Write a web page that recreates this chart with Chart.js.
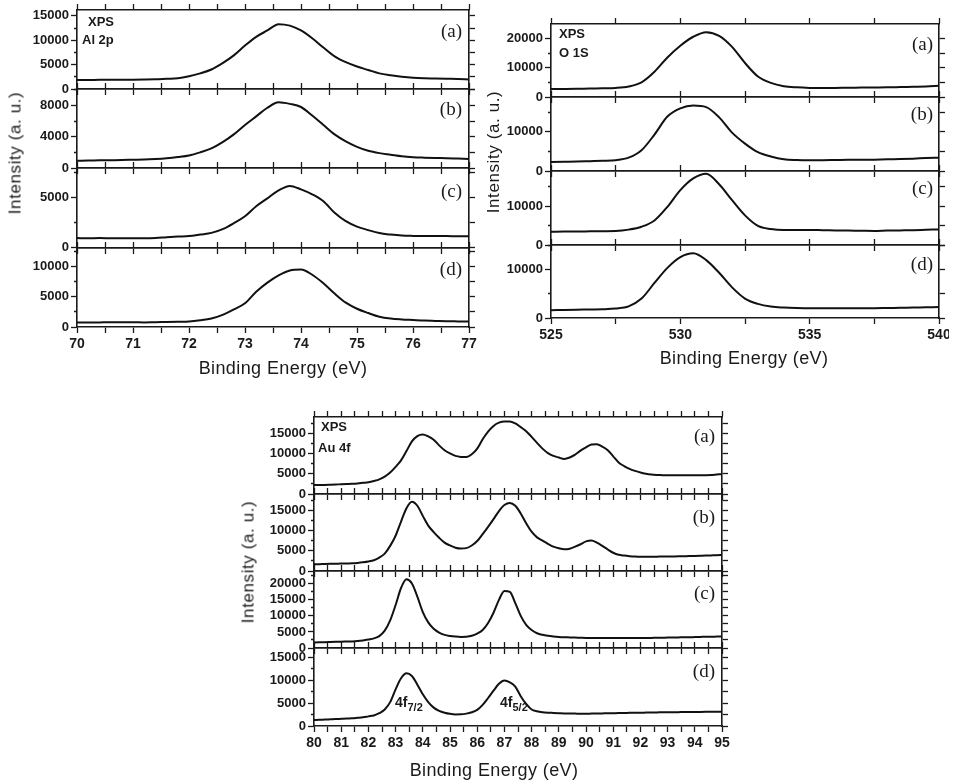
<!DOCTYPE html>
<html>
<head>
<meta charset="utf-8">
<script src="https://cdn.jsdelivr.net/npm/chart.js@4.4.1/dist/chart.umd.min.js"></script>
<style>
body { margin: 0; width: 955px; height: 781px; position: relative; background: #fff; overflow: hidden;
       font-family: "Liberation Sans", Arial, sans-serif; color: #1a1a1a; }
canvas { position: absolute; }
.t { position: absolute; white-space: nowrap; line-height: 1; }
.lbl { font-family: "Liberation Serif", "Times New Roman", serif; font-size: 19px; transform: translate(-100%, -50%); }
.tag { font-weight: bold; font-size: 13px; transform: translateY(-50%); }
.pk { font-weight: bold; font-size: 14px; transform: translateY(-50%); }
.pk sub { font-size: 11px; vertical-align: -4px; }
.xt { font-size: 18px; letter-spacing: 0.4px; transform: translate(-50%, -50%); }
.yt { font-size: 17px; letter-spacing: 0.6px; transform: translate(-50%, -50%) rotate(-90deg); }
</style>
</head>
<body>
<script>
// Al 2p
const alEnergy = [70, 70.2, 70.4, 70.6, 70.8, 71, 71.2, 71.4, 71.6, 71.8, 72, 72.2, 72.4, 72.6, 72.8, 73, 73.2, 73.4,
    73.6, 73.8, 74, 74.2, 74.4, 74.6, 74.8, 75, 75.2, 75.4, 75.6, 75.8, 76, 76.2, 76.4, 76.6, 76.8, 77];
const alA = [1830, 1850, 1880, 1900, 1900, 1920, 1950, 2000, 2100, 2200, 2600, 3200, 4000, 5300, 6900, 8900, 10700, 12000,
    13300, 13000, 12000, 10400, 8500, 6700, 5500, 4600, 3900, 3200, 2800, 2500, 2300, 2200, 2150, 2100, 2050, 1970];
const alB = [930, 950, 980, 1000, 1020, 1050, 1080, 1150, 1250, 1400, 1600, 2000, 2500, 3300, 4300, 5500, 6600, 7700,
    8400, 8200, 7800, 6700, 5500, 4300, 3400, 2700, 2200, 1900, 1700, 1500, 1380, 1320, 1280, 1250, 1200, 1150];
const alC = [900, 880, 900, 880, 870, 890, 880, 900, 980, 1050, 1100, 1250, 1420, 1800, 2400, 3100, 4100, 4900,
    5700, 6150, 5800, 5300, 4600, 3450, 2600, 2050, 1700, 1400, 1250, 1150, 1120, 1110, 1100, 1100, 1080, 1080];
const alD = [720, 730, 750, 780, 770, 780, 760, 800, 820, 850, 900, 1100, 1400, 2000, 2900, 3900, 5800, 7300,
    8500, 9300, 9450, 8600, 7200, 5500, 4000, 3000, 2300, 1700, 1400, 1250, 1150, 1050, 1000, 950, 920, 890];
const alYMax = [16200, 10100, 7950, 13000];
const alYMin = [0, 0, -100, 0];
const alXTicks = [70, 70.5, 71, 71.5, 72, 72.5, 73, 73.5, 74, 74.5, 75, 75.5, 76, 76.5, 77];
const alYTicks = [
    [0, 2500, 5000, 7500, 10000, 12500, 15000],
    [0, 2000, 4000, 6000, 8000, 10000],
    [0, 2500, 5000, 7500],
    [0, 2500, 5000, 7500, 10000, 12500]
];
const alYLabels = [[0, 5000, 10000, 15000], [0, 4000, 8000], [0, 5000], [0, 5000, 10000]];

// O 1s
const oEnergy = [525, 525.5, 526, 526.5, 527, 527.5, 528, 528.5, 529, 529.5, 530, 530.5, 531, 531.5, 532, 532.5,
    533, 533.5, 534, 534.5, 535, 535.5, 536, 536.5, 537, 537.5, 538, 538.5, 539, 539.5, 540];
const oA = [2720, 2750, 2800, 2900, 2950, 3100, 3600, 5000, 8600, 13500, 17500, 20550, 22100, 20850, 17100, 11600,
    7000, 4800, 3700, 3300, 3100, 3050, 3100, 3150, 3200, 3250, 3300, 3400, 3500, 3600, 3800];
const oB = [2300, 2350, 2400, 2500, 2600, 2750, 3400, 5300, 9300, 13900, 16000, 16700, 16300, 13700, 9800, 7000,
    4800, 3700, 3000, 2800, 2750, 2750, 2800, 2850, 2850, 2900, 3000, 3050, 3150, 3300, 3400];
const oC = [3400, 3450, 3450, 3500, 3550, 3600, 3950, 4700, 6300, 9800, 14100, 17100, 18300, 15600, 11500, 7600,
    4900, 4100, 3850, 3850, 3850, 3800, 3750, 3700, 3650, 3600, 3700, 3750, 3800, 3900, 4000];
const oD = [1600, 1650, 1700, 1750, 1800, 1950, 2400, 4000, 7200, 10300, 12500, 13300, 11900, 9300, 6300, 4000,
    2900, 2350, 2150, 2050, 2000, 2000, 2000, 2000, 2000, 2000, 2050, 2100, 2150, 2200, 2250];
const oYMax = [24900, 18900, 19000, 15000];
const oXTicks = [525, 527.5, 530, 532.5, 535, 537.5, 540];
const oYTicks = [
    [0, 5000, 10000, 15000, 20000],
    [0, 5000, 10000, 15000],
    [0, 5000, 10000, 15000],
    [0, 5000, 10000, 15000]
];
const oYLabels = [[0, 10000, 20000], [0, 10000], [0, 10000], [0, 10000]];

// Au 4f
const auEnergy = [80, 80.2, 80.4, 80.6, 80.8, 81, 81.2, 81.4, 81.6, 81.8, 82, 82.2, 82.4, 82.6, 82.8, 83, 83.2, 83.4,
    83.6, 83.8, 84, 84.2, 84.4, 84.6, 84.8, 85, 85.2, 85.4, 85.6, 85.8, 86, 86.2, 86.4, 86.6, 86.8, 87, 87.2, 87.4,
    87.6, 87.8, 88, 88.2, 88.4, 88.6, 88.8, 89, 89.2, 89.4, 89.6, 89.8, 90, 90.2, 90.4, 90.6, 90.8, 91, 91.2, 91.4,
    91.6, 91.8, 92, 92.2, 92.4, 92.6, 92.8, 93, 93.2, 93.4, 93.6, 93.8, 94, 94.2, 94.4, 94.6, 94.8, 95];
const auA = [2200, 2220, 2250, 2300, 2350, 2400, 2450, 2500, 2600, 2750, 2900, 3200, 3600, 4300, 5300, 6700, 8300, 10600,
    13000, 14300, 14700, 14200, 13400, 12000, 10800, 10000, 9400, 9150, 9100, 9800, 11200, 13500, 15400, 16800, 17600,
    17900, 17900, 17400, 16500, 15500, 14100, 12600, 11200, 10100, 9400, 9000, 8650, 9000, 9700, 10700, 11500, 12200,
    12300, 11700, 10800, 9300, 7800, 6900, 6200, 5700, 5300, 5000, 4800, 4700, 4650, 4600, 4600, 4600, 4600, 4600,
    4600, 4620, 4650, 4700, 4800, 4900];
const auB = [1640, 1680, 1720, 1760, 1800, 1840, 1870, 1900, 2000, 2150, 2350, 2650, 3300, 4300, 6200, 8700, 12200, 15500,
    17100, 16100, 13600, 11200, 9600, 8200, 7000, 6300, 5750, 5550, 5650, 6300, 7400, 9100, 10900, 12800, 14800,
    16300, 16800, 16100, 14200, 11800, 9700, 8300, 7500, 6700, 6000, 5600, 5350, 5500, 6000, 6600, 7300, 7500,
    7000, 6200, 5300, 4500, 4000, 3800, 3650, 3550, 3500, 3500, 3520, 3540, 3560, 3580, 3600, 3620, 3650, 3680,
    3720, 3760, 3800, 3850, 3900, 3940];
const auC = [1740, 1780, 1820, 1870, 1920, 1970, 2010, 2050, 2150, 2350, 2650, 3000, 3700, 5400, 8600, 13400, 18700, 21400,
    20100, 16000, 11200, 8000, 6000, 4800, 4100, 3750, 3550, 3450, 3500, 3800, 4500, 5600, 7800, 11000, 15000,
    17800, 17500, 14000, 10000, 7200, 5600, 4600, 4100, 3800, 3600, 3450, 3350, 3300, 3250, 3200, 3150, 3120,
    3100, 3100, 3100, 3100, 3100, 3100, 3100, 3100, 3100, 3150, 3150, 3200, 3200, 3250, 3250, 3300, 3350, 3350,
    3400, 3450, 3500, 3500, 3550, 3600];
const auD = [1300, 1340, 1400, 1450, 1500, 1560, 1620, 1670, 1780, 1900, 2100, 2300, 2800, 3600, 5200, 8000, 10400, 11500,
    10900, 9000, 6900, 5200, 4000, 3300, 2900, 2650, 2530, 2550, 2700, 3000, 3500, 4600, 6100, 7700, 9200,
    9900, 9500, 8600, 6500, 4800, 3600, 3200, 3000, 2900, 2850, 2800, 2750, 2720, 2700, 2680, 2680, 2700,
    2720, 2750, 2780, 2800, 2820, 2850, 2870, 2900, 2900, 2920, 2940, 2960, 2980, 3000, 3000, 3020, 3040, 3050,
    3060, 3070, 3080, 3090, 3100, 3120];
const auYMax = [19000, 19000, 24000, 17000];
const auXTicks = [80, 80.5, 81, 81.5, 82, 82.5, 83, 83.5, 84, 84.5, 85, 85.5, 86, 86.5, 87, 87.5, 88, 88.5,
    89, 89.5, 90, 90.5, 91, 91.5, 92, 92.5, 93, 93.5, 94, 94.5, 95];
const auYTicks = [
    [0, 2500, 5000, 7500, 10000, 12500, 15000, 17500],
    [0, 2500, 5000, 7500, 10000, 12500, 15000, 17500],
    [0, 2500, 5000, 7500, 10000, 12500, 15000, 17500, 20000, 22500],
    [0, 2500, 5000, 7500, 10000, 12500, 15000]
];
const auYLabels = [[0, 5000, 10000, 15000], [0, 5000, 10000, 15000], [0, 5000, 10000, 15000, 20000], [0, 5000, 10000, 15000]];

const panelTags = ["(a)", "(b)", "(c)", "(d)"];

const INK = "#1a1a1a";
const tickFont = (size) => ({ family: "'Liberation Sans', Arial, sans-serif", size: size, weight: "bold" });

// one stacked strip of a panel; box = plot area in page pixels
function addSubplot(box, xs, ys, opt) {
    const L = 64, R = 10, T = 10, B = opt.last ? 36 : 10;
    const w = box.x1 - box.x0 + L + R;
    const h = box.y1 - box.y0 + T + B;
    const c = document.createElement("canvas");
    c.width = w; c.height = h;
    c.style.width = w + "px"; c.style.height = h + "px";
    c.style.left = (box.x0 - L) + "px"; c.style.top = (box.y0 - T) + "px";
    document.body.appendChild(c);

    const border = { display: true, color: INK, width: 1.6 };

    function axis(dir, pos, size, min, max, tickVals, labelVals, majorVals) {
        return {
            type: "linear", axis: dir, position: pos, min: min, max: max, bounds: "data",
            grid: {
                drawOnChartArea: false, drawTicks: true, tickLength: 6, tickWidth: 1.3, tickColor: INK,
                // minor ticks on the left axis are drawn half as long
                tickBorderDash: function (ctx) {
                    if (!majorVals || !ctx.tick) return [];
                    return majorVals.indexOf(ctx.tick.value) >= 0 ? [] : [0, 3, 3, 0];
                }
            },
            border: border,
            afterBuildTicks: function (s) { s.ticks = tickVals.map(v => ({ value: v })); },
            afterFit: function (s) {
                if (dir === "x") s.height = size; else s.width = size;
                s.paddingLeft = 0; s.paddingRight = 0; s.paddingTop = 0; s.paddingBottom = 0;
            },
            ticks: {
                autoSkip: false, maxRotation: 0, minRotation: 0, padding: dir === "x" ? 3 : 2,
                color: INK, font: tickFont(dir === "x" ? 14 : 13),
                callback: function (v) { return labelVals.indexOf(v) >= 0 ? String(v) : ""; }
            }
        };
    }

    new Chart(c, {
        type: "line",
        data: {
            datasets: [{
                data: xs.map((x, i) => ({ x: x, y: ys[i] })),
                borderColor: "#111",
                borderWidth: 2,
                pointRadius: 0,
                cubicInterpolationMode: "monotone",
                xAxisID: "x",
                yAxisID: "y"
            }]
        },
        options: {
            responsive: false,
            animation: false,
            layout: { padding: 0 },
            plugins: { legend: { display: false }, tooltip: { enabled: false } },
            scales: {
                x: axis("x", "bottom", B, opt.xMin, opt.xMax, opt.xTicks, opt.last ? opt.xLabels : [], null),
                x2: axis("x", "top", T, opt.xMin, opt.xMax, opt.xTicks, [], null),
                y: axis("y", "left", L, opt.yMin, opt.yMax, opt.yTicks, opt.yLabels, opt.yLabels),
                y2: axis("y", "right", R, opt.yMin, opt.yMax, opt.yTicks, [], null)
            }
        }
    });
}

function addText(html, x, y, cls) {
    const d = document.createElement("div");
    d.className = "t " + cls;
    d.innerHTML = html;
    d.style.left = x + "px";
    d.style.top = y + "px";
    document.body.appendChild(d);
}

// Al 2p panel
const alRows = [[10, 89], [89, 168], [168, 248], [248, 327]];
const alSeries = [alA, alB, alC, alD];
alRows.forEach((r, i) => {
    addSubplot({ x0: 77, x1: 469, y0: r[0], y1: r[1] }, alEnergy, alSeries[i], {
        xMin: 70, xMax: 77, xTicks: alXTicks, xLabels: [70, 71, 72, 73, 74, 75, 76, 77],
        yMin: alYMin[i], yMax: alYMax[i], yTicks: alYTicks[i], yLabels: alYLabels[i], last: i === 3
    });
});

// O 1s panel
const oRows = [[24, 97], [97, 171], [171, 245], [245, 318]];
const oSeries = [oA, oB, oC, oD];
oRows.forEach((r, i) => {
    addSubplot({ x0: 551, x1: 939, y0: r[0], y1: r[1] }, oEnergy, oSeries[i], {
        xMin: 525, xMax: 540, xTicks: oXTicks, xLabels: [525, 530, 535, 540],
        yMin: 0, yMax: oYMax[i], yTicks: oYTicks[i], yLabels: oYLabels[i], last: i === 3
    });
});

// Au 4f panel
const auRows = [[417, 494], [494, 571], [571, 648], [648, 726]];
const auSeries = [auA, auB, auC, auD];
auRows.forEach((r, i) => {
    addSubplot({ x0: 314, x1: 722, y0: r[0], y1: r[1] }, auEnergy, auSeries[i], {
        xMin: 80, xMax: 95, xTicks: auXTicks,
        xLabels: [80, 81, 82, 83, 84, 85, 86, 87, 88, 89, 90, 91, 92, 93, 94, 95],
        yMin: 0, yMax: auYMax[i], yTicks: auYTicks[i], yLabels: auYLabels[i], last: i === 3
    });
});

// annotations
addText("XPS", 88, 21, "tag");
addText("Al 2p", 82, 39, "tag");
[30, 108, 190, 268].forEach((y, i) => addText(panelTags[i], 462, y, "lbl"));

addText("XPS", 559, 33, "tag");
addText("O 1S", 559, 52, "tag");
[43, 113, 187, 263].forEach((y, i) => addText(panelTags[i], 933, y, "lbl"));

addText("XPS", 321, 426, "tag");
addText("Au 4f", 318, 447, "tag");
[435, 516, 592, 670].forEach((y, i) => addText(panelTags[i], 715, y, "lbl"));
addText("4f<sub>7/2</sub>", 395, 704, "pk");
addText("4f<sub>5/2</sub>", 500, 704, "pk");

addText("Binding Energy (eV)", 283, 368, "xt");
addText("Binding Energy (eV)", 744, 358, "xt");
addText("Binding Energy (eV)", 494, 770, "xt");
addText("Intensity (a. u.)", 15, 153, "yt");
addText("Intensity (a. u.)", 493, 152, "yt");
addText("Intensity (a. u.)", 248, 562, "yt");
</script>
</body>
</html>
